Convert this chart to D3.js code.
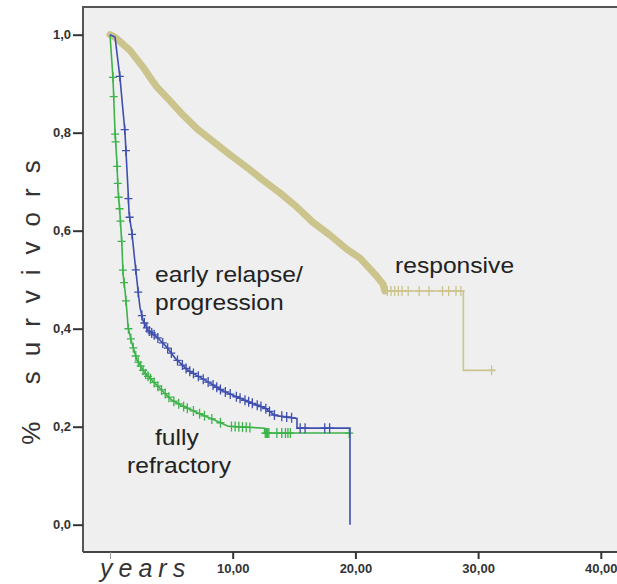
<!DOCTYPE html>
<meta charset="utf-8" />
<style>
  body { margin: 0; background: #fff; }
  svg { display: block; }
  text { font-family: Arial, "Liberation Sans", sans-serif; }
</style>
<script src="https://d3js.org/d3.v7.min.js"></script>
<svg id="chart" width="617" height="584"></svg>
<script>
// Kaplan-Meier estimates, [years, proportion surviving]
const responsive = [
  [0, 1.0], [0.4, 0.995], [1.63, 0.968], [2.69, 0.934], [3.42, 0.907], [3.83, 0.893],
  [4.89, 0.865], [5.95, 0.836], [7.09, 0.808], [8.72, 0.776], [9.78, 0.755],
  [11.17, 0.729], [12.47, 0.703], [13.86, 0.677], [15.24, 0.648], [16.54, 0.617],
  [17.93, 0.591], [19.32, 0.562], [20.37, 0.544], [21.6, 0.511], [22.25, 0.491],
  [22.4, 0.477], [28.8, 0.315], [31.4, 0.315]
];
const relapse = [
  [0, 1.0], [0.41, 0.995], [0.81, 0.913], [1.22, 0.801], [1.47, 0.683], [1.55, 0.636],
  [1.79, 0.595], [2.04, 0.534], [2.28, 0.479], [2.44, 0.444], [2.69, 0.417],
  [3.1, 0.397], [3.83, 0.383], [4.65, 0.362], [5.3, 0.34], [6.36, 0.315],
  [7.74, 0.295], [9.13, 0.274], [10.4, 0.26], [11.57, 0.248], [12.63, 0.238],
  [13.45, 0.223], [15.24, 0.217], [15.24, 0.197], [19.56, 0.197], [19.56, 0]
];
const refractory = [
  [0, 1.0], [0.24, 0.913], [0.41, 0.801], [0.57, 0.738], [0.65, 0.683], [0.81, 0.636],
  [0.98, 0.566], [1.06, 0.513], [1.22, 0.479], [1.39, 0.432], [1.47, 0.403],
  [1.79, 0.37], [2.2, 0.336], [2.85, 0.309], [3.42, 0.295], [4.24, 0.274],
  [5.05, 0.254], [6.1, 0.24], [7.17, 0.228], [8.56, 0.213], [9.62, 0.201],
  [12.6, 0.197], [12.6, 0.187], [19.56, 0.187]
];

// censored observations (years)
const responsiveCensor = [22.6, 22.9, 23.2, 23.5, 23.8, 24.3, 25.2, 26.0, 27.1, 27.6, 28.2, 28.6, 31.1];
const relapseCensor = [
  0.8, 1.2, 1.3, 1.5, 1.6, 1.8, 2.1, 2.3, 2.6, 2.8, 3.0, 3.2, 3.4, 3.6, 3.9, 4.3, 4.7,
  5.0, 5.5, 5.9, 6.2, 6.5, 6.8, 7.2, 7.6, 8.0, 8.4, 8.7, 9.0, 9.4, 9.8, 10.3, 10.6,
  11.0, 11.3, 11.6, 12.0, 12.3, 12.7, 13.0, 13.4, 14.0, 14.4, 14.8, 15.5, 15.9, 17.5, 17.9
];
const refractoryCensor = [
  0.24, 0.3, 0.42, 0.46, 0.58, 0.63, 0.7, 0.78, 0.85, 0.95, 1.05, 1.15, 1.3, 1.5, 1.7,
  1.9, 2.1, 2.3, 2.5, 2.7, 2.9, 3.1, 3.3, 3.6, 3.9, 4.2, 4.5, 4.8, 5.2, 5.6, 6.0, 6.3,
  6.8, 7.3, 7.7, 8.3, 9.0, 9.9, 10.2, 10.5, 10.8, 11.1, 11.4, 12.65, 12.75, 12.85,
  12.95, 13.6, 14.0, 14.3, 14.5, 14.7, 19.5
];

const xTicks = [0, 10, 20, 30, 40];
const yTicks = [0, 0.2, 0.4, 0.6, 0.8, 1.0];

const svg = d3.select('#chart');

const x = d3.scaleLinear().domain([0, 40]).range([110, 600.8]);
const y = d3.scaleLinear().domain([0, 1]).range([524.7, 34.7]);

const comma = f => d => d3.format(f)(d).replace('.', ',');

// plot background + frame
svg.append('rect')
  .attr('x', 83).attr('y', 7)
  .attr('width', 560).attr('height', 545)
  .attr('fill', '#efefef');

svg.append('path')
  .attr('d', 'M83,552V7H640')
  .attr('fill', 'none')
  .attr('stroke', '#555')
  .attr('stroke-width', 2);

svg.append('line')
  .attr('x1', 83).attr('x2', 640)
  .attr('y1', 552).attr('y2', 552)
  .attr('stroke', '#444')
  .attr('stroke-width', 2);

// axes
const yAxis = svg.append('g')
  .attr('transform', 'translate(83,0)')
  .call(d3.axisLeft(y).tickValues(yTicks).tickSize(10).tickPadding(2).tickFormat(comma('.1f')));

const xAxis = svg.append('g')
  .attr('transform', 'translate(0,552)')
  .call(d3.axisBottom(x).tickValues(xTicks).tickSize(7).tickPadding(5)
    .tickFormat(d => d === 0 ? '' : comma('.2f')(d)));

[yAxis, xAxis].forEach(ax => {
  ax.select('.domain').remove();
  ax.selectAll('.tick line').attr('stroke', '#333').attr('stroke-width', 2);
  ax.selectAll('.tick text')
    .attr('fill', '#333')
    .style('font-size', '13px')
    .style('font-weight', 'bold')
    .style('font-family', 'Arial, "Liberation Sans", sans-serif');
});
xAxis.select('.tick line').attr('stroke-width', 1).attr('stroke', '#999');

// curves (steps are so small that the estimates read as slanted lines)
const line = d3.line().x(d => x(d[0])).y(d => y(d[1]));
const step = d3.line().x(d => x(d[0])).y(d => y(d[1])).curve(d3.curveStepAfter);

function survAt(data, t) {
  const i = d3.bisector(d => d[0]).right(data, t) - 1;
  const a = data[Math.max(i, 0)], b = data[Math.min(i + 1, data.length - 1)];
  if (b[0] === a[0]) return a[1];
  return a[1] + (b[1] - a[1]) * (t - a[0]) / (b[0] - a[0]);
}

function censor(data, times, color, flat) {
  svg.append('g').selectAll('path')
    .data(times)
    .join('path')
    .attr('d', t => {
      const cx = x(t);
      const cy = y(flat ? data[d3.bisector(d => d[0]).right(data, t) - 1][1] : survAt(data, t));
      return `M${cx},${cy - 5}V${cy + 5}M${cx - 4},${cy}H${cx + 4}`;
    })
    .attr('stroke', color)
    .attr('stroke-width', 1.3)
    .attr('fill', 'none');
}

const yellow = '#cbc48c', blue = '#3f4fae', green = '#3db34a';

// responsive: dense band of censor marks shown as a heavy line, then thin tail
svg.append('path')
  .attr('d', line(responsive.filter(d => d[0] <= 22.4)))
  .attr('fill', 'none')
  .attr('stroke', yellow)
  .attr('stroke-width', 7)
  .attr('stroke-linejoin', 'round')
  .attr('stroke-linecap', 'round');
svg.append('path')
  .attr('d', step(responsive.filter(d => d[0] >= 22.4)))
  .attr('fill', 'none')
  .attr('stroke', yellow)
  .attr('stroke-width', 1.6);
censor(responsive, responsiveCensor, yellow, true);

svg.append('path')
  .attr('d', line(refractory))
  .attr('fill', 'none')
  .attr('stroke', green)
  .attr('stroke-width', 1.6);
censor(refractory, refractoryCensor, green, false);

svg.append('path')
  .attr('d', line(relapse))
  .attr('fill', 'none')
  .attr('stroke', blue)
  .attr('stroke-width', 1.6);
censor(relapse, relapseCensor, blue, false);

// group labels
function label(tx, ty, str, size) {
  svg.append('text')
    .attr('transform', `translate(${tx},${ty}) scale(1.12,1)`)
    .attr('fill', '#222')
    .style('font-size', size + 'px')
    .text(str);
}
label(395, 273, 'responsive', 22);
label(155, 282, 'early relapse/', 22);
label(155, 310, 'progression', 22);
label(155, 445, 'fully', 22);
label(127, 473, 'refractory', 22);

// axis titles
svg.append('text')
  .attr('transform', 'translate(40,295) rotate(-90)')
  .attr('text-anchor', 'middle')
  .attr('fill', '#333')
  .style('font-size', '26px')
  .style('letter-spacing', '15px')
  .text('% survivors');

svg.append('text')
  .attr('x', 100)
  .attr('y', 577)
  .attr('fill', '#333')
  .style('font-size', '25px')
  .style('font-style', 'italic')
  .style('letter-spacing', '6px')
  .text('years');
</script>
